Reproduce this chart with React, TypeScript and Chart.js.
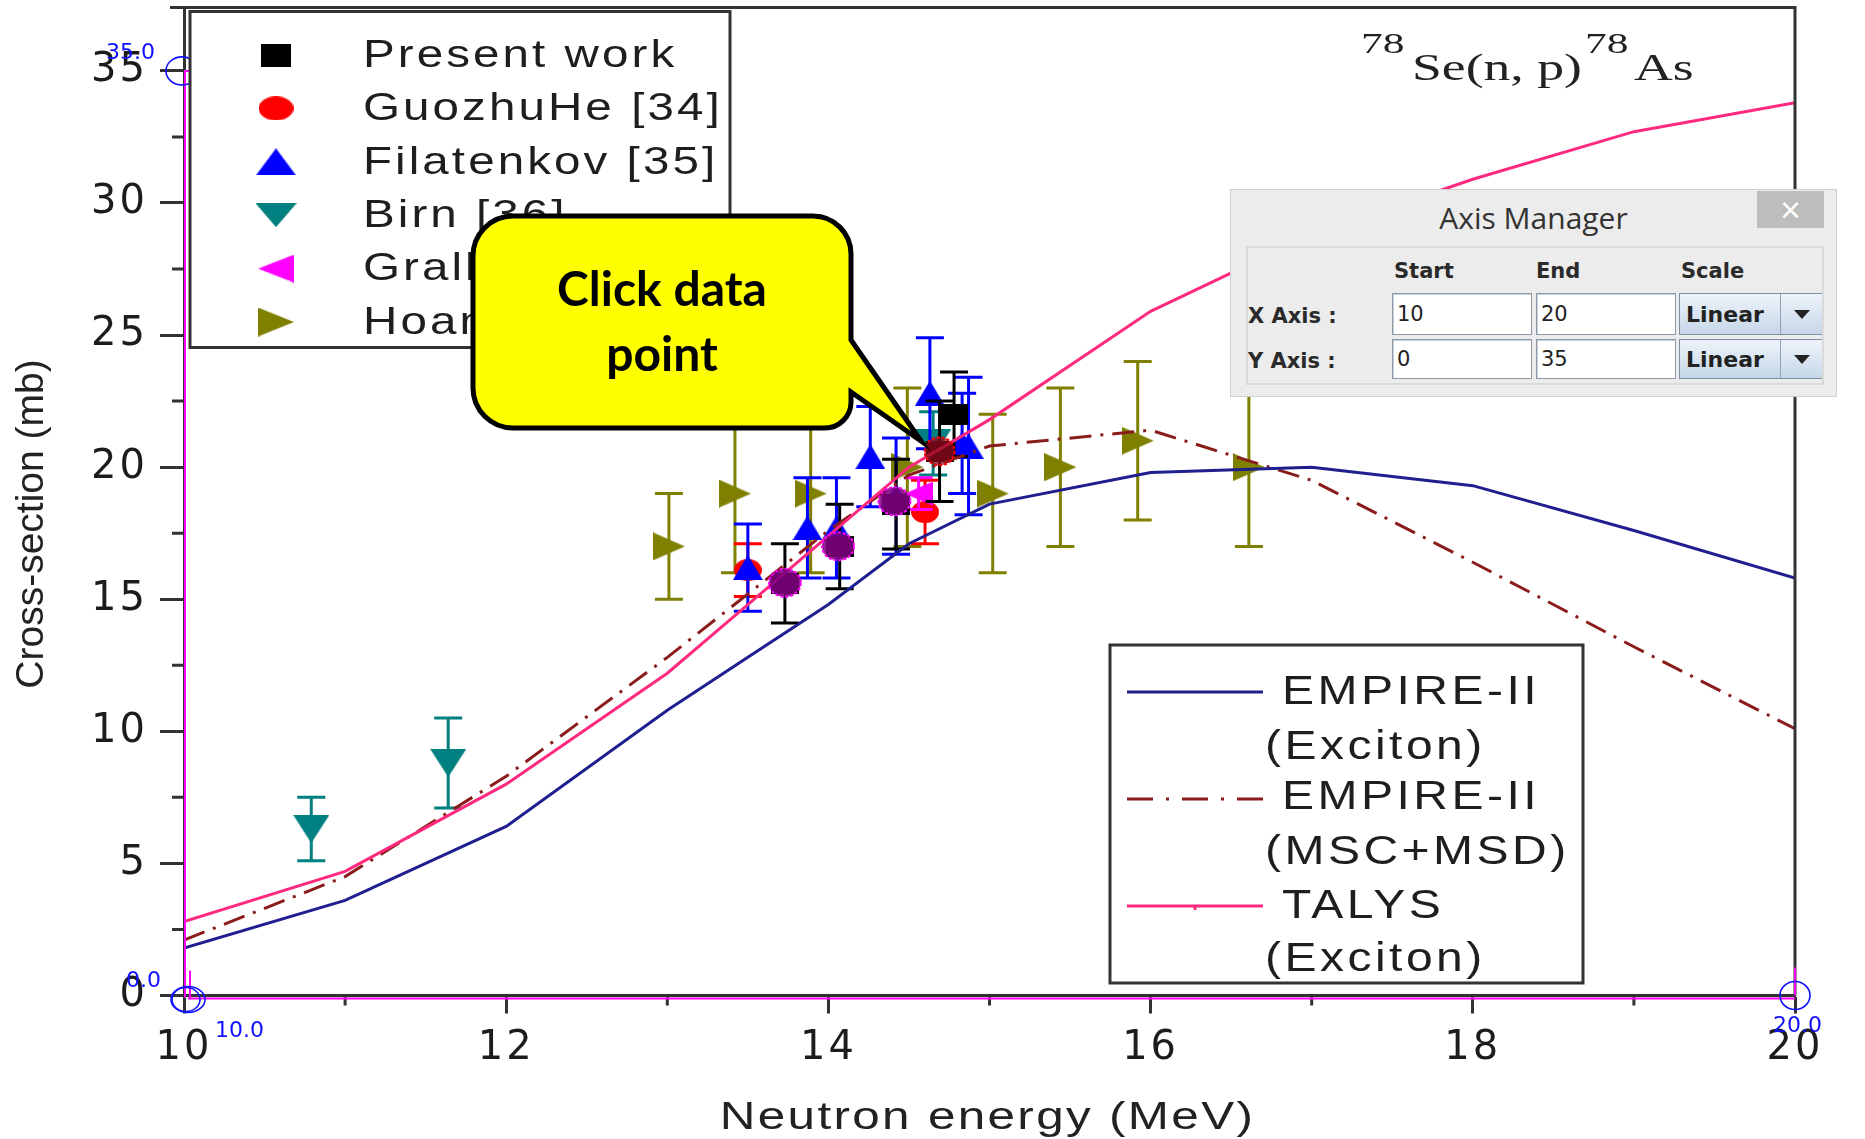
import React, { useEffect, useRef } from 'react';
import { Chart, registerables } from 'chart.js';

Chart.register(...registerables);

// ---------- axis ticks ----------
const xTickValues = [10, 12, 14, 16, 18, 20];
const xMinorTickValues = [11, 13, 15, 17, 19];
const yTickValues = [0, 5, 10, 15, 20, 25, 30, 35];
const yMinorTickValues = [2.5, 7.5, 12.5, 17.5, 22.5, 27.5, 32.5];

// ---------- theory curves ----------
const theoryEnergy = [10, 11, 12, 13, 13.5, 14, 14.5, 15, 16, 17, 18, 19, 20];
const empireExciton = [1.8, 3.6, 6.4, 10.8, 12.8, 14.8, 17.1, 18.6, 19.8, 20.0, 19.3, 17.6, 15.8];
const empireMscMsd = [2.1, 4.5, 8.3, 12.8, 15.2, 17.6, 19.7, 20.8, 21.4, 19.5, 16.4, 13.2, 10.1];
const talysExciton = [2.8, 4.7, 8.0, 12.2, 14.8, 17.4, 20.0, 21.8, 25.9, 28.8, 30.9, 32.7, 33.8];

// ---------- experimental data ----------
const presentEnergy = [13.73, 14.07, 14.42, 14.69, 14.78];
const presentXS = [15.6, 17.0, 18.6, 20.6, 22.0];
const presentErr = [1.5, 1.6, 1.7, 1.9, 1.6];

const guozhuEnergy = [13.5, 14.6];
const guozhuXS = [16.1, 18.3];
const guozhuErr = [1.0, 1.2];

const filatEnergy = [13.5, 13.87, 14.05, 14.26, 14.42, 14.63, 14.83, 14.87];
const filatXS = [16.2, 17.7, 17.7, 20.4, 18.9, 22.8, 20.9, 20.8];
const filatErr = [1.65, 1.9, 1.9, 1.9, 2.2, 2.1, 1.9, 2.6];

const birnEnergy = [10.79, 11.64, 14.65];
const birnXS = [6.3, 8.8, 20.9];
const birnErr = [1.2, 1.7, 1.2];

const grallEnergy = [14.56];
const grallXS = [19.0];
const grallErr = [0.6];

const hoangEnergy = [13.01, 13.42, 13.89, 14.49, 15.02, 15.44, 15.92, 16.61];
const hoangXS = [17.0, 19.0, 19.0, 20.0, 19.0, 20.0, 21.0, 20.0];
const hoangErr = [2.0, 3.0, 3.0, 3.0, 3.0, 3.0, 3.0, 3.0];

// ---------- digitizer marks ----------
const digitizedEnergy = [13.73, 14.06, 14.41];
const digitizedXS = [15.62, 17.0, 18.71];
const clickedEnergy = [14.69];
const clickedXS = [20.6];

const legendLabels = ['Present work', 'GuozhuHe [34]', 'Filatenkov [35]', 'Birn [36]', 'Grallert [37]', 'Hoang [38]'];
const theoryLabels = ['EMPIRE-II', '(Exciton)', 'EMPIRE-II', '(MSC+MSD)', 'TALYS', '(Exciton)'];

const pts = (xs: number[], ys: number[]) => xs.map((x, i) => ({ x, y: ys[i] }));

const errorBarsByLabel: Record<string, number[]> = {
  'Present work': presentErr,
  'GuozhuHe [34]': guozhuErr,
  'Filatenkov [35]': filatErr,
  'Birn [36]': birnErr,
  'Grallert [37]': grallErr,
  'Hoang [38]': hoangErr,
};

function makeMarker(shape: string, color: string, w: number, h: number) {
  const c = document.createElement('canvas');
  c.width = w;
  c.height = h;
  const g = c.getContext('2d')!;
  g.fillStyle = color;
  g.beginPath();
  if (shape === 'square') g.rect(0, 0, w, h);
  else if (shape === 'circle') g.ellipse(w / 2, h / 2, w / 2, h / 2, 0, 0, Math.PI * 2);
  else if (shape === 'up') { g.moveTo(w / 2, 0); g.lineTo(w, h); g.lineTo(0, h); }
  else if (shape === 'down') { g.moveTo(0, 0); g.lineTo(w, 0); g.lineTo(w / 2, h); }
  else if (shape === 'left') { g.moveTo(0, h / 2); g.lineTo(w, 0); g.lineTo(w, h); }
  else if (shape === 'right') { g.moveTo(0, 0); g.lineTo(w, h / 2); g.lineTo(0, h); }
  g.closePath();
  g.fill();
  return c;
}

function drawText(ctx: any, text: string, x: number, y: number, o: any) {
  ctx.save();
  ctx.translate(x, y);
  if (o.rotate) ctx.rotate(o.rotate);
  ctx.scale(o.sx ?? 1, 1);
  ctx.font = o.font;
  ctx.fillStyle = o.color ?? '#222';
  ctx.textAlign = o.align ?? 'left';
  ctx.textBaseline = o.baseline ?? 'middle';
  ctx.letterSpacing = o.spacing ?? '0px';
  ctx.fillText(text, 0, 0);
  ctx.restore();
}

const errorBarPlugin = {
  id: 'errorBars',
  beforeDatasetDraw(chart: any, args: any) {
    const ds = chart.data.datasets[args.index];
    const errs = errorBarsByLabel[ds.label];
    if (!errs) return;
    const ctx = chart.ctx;
    const ys = chart.scales.y;
    ctx.save();
    ctx.strokeStyle = ds.borderColor;
    ctx.lineWidth = 3;
    args.meta.data.forEach((el: any, i: number) => {
      const d = ds.data[i];
      const t = ys.getPixelForValue(d.y + errs[i]);
      const b = ys.getPixelForValue(d.y - errs[i]);
      ctx.beginPath();
      ctx.moveTo(el.x, t); ctx.lineTo(el.x, b);
      ctx.moveTo(el.x - 14, t); ctx.lineTo(el.x + 14, t);
      ctx.moveTo(el.x - 14, b); ctx.lineTo(el.x + 14, b);
      ctx.stroke();
    });
    ctx.restore();
  },
};

function makeOverlayPlugin(markers: any[]) {
  return {
    id: 'overlay',
    beforeDraw(chart: any) {
      chart.ctx.letterSpacing = '3px';
    },
    afterDatasetsDraw(chart: any) {
      const ctx = chart.ctx;
      ctx.letterSpacing = '0px';
      const xs = chart.scales.x, ys = chart.scales.y;
      ctx.save();
      ctx.lineWidth = 2;
      ctx.setLineDash([3, 2]);
      digitizedEnergy.forEach((e, i) => {
        ctx.beginPath();
        ctx.ellipse(xs.getPixelForValue(e), ys.getPixelForValue(digitizedXS[i]), 16, 14, 0, 0, Math.PI * 2);
        ctx.fillStyle = 'rgba(128,0,128,0.88)';
        ctx.fill();
        ctx.strokeStyle = '#ff00ff';
        ctx.stroke();
      });
      clickedEnergy.forEach((e, i) => {
        ctx.beginPath();
        ctx.ellipse(xs.getPixelForValue(e), ys.getPixelForValue(clickedXS[i]), 15, 14, 0, 0, Math.PI * 2);
        ctx.fillStyle = 'rgba(150,10,30,0.75)';
        ctx.fill();
        ctx.strokeStyle = '#ff0000';
        ctx.stroke();
      });
      ctx.restore();
    },
    afterDraw(chart: any) {
      const ctx = chart.ctx;
      ctx.letterSpacing = '0px';
      const xs = chart.scales.x, ys = chart.scales.y;
      const { left: L, right: R, top: T, bottom: B } = chart.chartArea;
      const px = (v: number) => xs.getPixelForValue(v);
      const py = (v: number) => ys.getPixelForValue(v);
      ctx.save();
      // frame
      ctx.strokeStyle = '#333';
      ctx.lineWidth = 3;
      ctx.beginPath();
      ctx.moveTo(L - 14, T); ctx.lineTo(R, T); ctx.lineTo(R, B);
      ctx.stroke();
      // minor ticks
      ctx.beginPath();
      yMinorTickValues.forEach(v => { ctx.moveTo(L - 12, py(v)); ctx.lineTo(L, py(v)); });
      xMinorTickValues.forEach(v => { ctx.moveTo(px(v), B); ctx.lineTo(px(v), B + 10); });
      ctx.stroke();

      // digitizer axis lines
      ctx.strokeStyle = '#ff00ff';
      ctx.lineWidth = 2;
      ctx.beginPath();
      ctx.moveTo(L + 1, py(35)); ctx.lineTo(L + 1, B + 2);
      ctx.moveTo(L, py(35)); ctx.lineTo(L + 30, py(35));
      ctx.moveTo(L + 4, B + 3); ctx.lineTo(R, B + 3);
      ctx.moveTo(L + 6, B - 25); ctx.lineTo(L + 6, B + 3);
      ctx.moveTo(R, B - 28); ctx.lineTo(R, B);
      ctx.stroke();
      ctx.strokeStyle = '#1010ff';
      ctx.lineWidth = 1.6;
      const ell = (x: number, y: number, rx: number, ry: number) => {
        ctx.beginPath(); ctx.ellipse(x, y, rx, ry, 0, 0, Math.PI * 2); ctx.stroke();
      };
      ell(px(10) - 2, py(35), 16, 14);
      ell(px(10) + 4, py(0) + 4, 17, 13);
      ell(px(10) + 2, py(0) + 4, 14, 12);
      ell(px(20), py(0), 15, 14);
      const blueFont = '22px "DejaVu Sans"';
      drawText(ctx, '35.0', L - 78, py(35) - 12, { font: blueFont, color: '#1010ff', baseline: 'alphabetic' });
      drawText(ctx, '0.0', L - 58, B - 9, { font: blueFont, color: '#1010ff', baseline: 'alphabetic' });
      drawText(ctx, '10.0', L + 31, B + 41, { font: blueFont, color: '#1010ff', baseline: 'alphabetic' });
      drawText(ctx, '20.0', R - 22, B + 36, { font: blueFont, color: '#1010ff', baseline: 'alphabetic' });

      // axis titles
      drawText(ctx, 'Neutron energy (MeV)', (L + R) / 2 - 2, 1119, {
        font: '38px "Liberation Sans"', color: '#222', align: 'center', sx: 1.3, spacing: '1.8px',
      });
      drawText(ctx, 'Cross-section (mb)', 32, 524, {
        font: '39px "Liberation Sans"', color: '#222', align: 'center', rotate: -Math.PI / 2,
      });

      // reaction label
      const serifSup = '30px "Liberation Serif"';
      const serifMain = '37px "Liberation Serif"';
      drawText(ctx, '78', 1361, 53, { font: serifSup, sx: 1.45, baseline: 'alphabetic', color: '#222' });
      drawText(ctx, 'Se(n, p)', 1412, 80, { font: serifMain, sx: 1.45, baseline: 'alphabetic', color: '#222' });
      drawText(ctx, '78', 1585, 53, { font: serifSup, sx: 1.45, baseline: 'alphabetic', color: '#222' });
      drawText(ctx, 'As', 1634, 80, { font: serifMain, sx: 1.45, baseline: 'alphabetic', color: '#222' });

      // experimental legend
      ctx.fillStyle = '#fff';
      ctx.fillRect(L + 6, T + 4, 540, 336);
      ctx.strokeStyle = '#333';
      ctx.lineWidth = 3;
      ctx.strokeRect(L + 6, T + 4, 540, 336);
      const legendSizes = [[30, 23], [35, 24], [40, 27], [41, 24], [36, 28], [36, 29]];
      legendLabels.forEach((lab, i) => {
        const y = 55 + i * 53.4;
        const [w, h] = legendSizes[i];
        ctx.drawImage(markers[i], 276 - w / 2, y - h / 2, w, h);
        drawText(ctx, lab, 363, y + 1, { font: '39px "Liberation Sans"', sx: 1.22, spacing: '2.5px', color: '#1e1e1e' });
      });

      // theory legend
      ctx.fillStyle = '#fff';
      ctx.fillRect(1110, 645, 473, 338);
      ctx.strokeStyle = '#333';
      ctx.lineWidth = 3;
      ctx.strokeRect(1110, 645, 473, 338);
      const lineRows = [692, 799, 906];
      const lineColors = ['#1f1f8f', '#8b1c1c', '#ff2a7f'];
      lineRows.forEach((y, i) => {
        ctx.beginPath();
        ctx.strokeStyle = lineColors[i];
        ctx.lineWidth = 3;
        ctx.setLineDash(i === 1 ? [26, 13, 3, 13] : []);
        ctx.moveTo(1127, y); ctx.lineTo(1263, y);
        if (i === 2) { ctx.moveTo(1195, y); ctx.lineTo(1195, y + 4); }
        ctx.stroke();
      });
      ctx.setLineDash([]);
      const textRows = [693, 748, 798, 853, 907, 960];
      theoryLabels.forEach((lab, i) => {
        drawText(ctx, lab, i % 2 === 0 ? 1282 : 1265, textRows[i], {
          font: '40px "Liberation Sans"', sx: 1.2, spacing: '2.9px', color: '#1e1e1e',
        });
      });

      // callout
      const l = 473, t = 216, r = 851, b = 428;
      ctx.beginPath();
      ctx.moveTo(l + 40, t);
      ctx.lineTo(r - 38, t);
      ctx.arcTo(r, t, r, t + 38, 38);
      ctx.lineTo(r, 340);
      ctx.lineTo(921, 441);
      ctx.lineTo(r, 392);
      ctx.lineTo(r, b - 26);
      ctx.arcTo(r, b, r - 26, b, 26);
      ctx.lineTo(l + 40, b);
      ctx.arcTo(l, b, l, b - 40, 40);
      ctx.lineTo(l, t + 40);
      ctx.arcTo(l, t, l + 40, t, 40);
      ctx.closePath();
      ctx.fillStyle = '#ffff00';
      ctx.fill();
      ctx.strokeStyle = '#000';
      ctx.lineWidth = 5;
      ctx.lineJoin = 'miter';
      ctx.stroke();
      drawText(ctx, 'Click data', 662, 291, { font: 'bold 48px Lato', align: 'center', color: '#000' });
      drawText(ctx, 'point', 662, 356, { font: 'bold 48px Lato', align: 'center', color: '#000' });
      ctx.restore();
    },
  };
}

function AxisManager() {
  const label: any = { position: 'absolute', font: 'bold 21px "DejaVu Sans"', color: '#2a2a2a', lineHeight: '24px', whiteSpace: 'nowrap' };
  const input: any = {
    position: 'absolute', background: '#fff', border: '1px solid #8d99a6', boxShadow: 'inset 1px 1px 0 #c9d1da',
    boxSizing: 'border-box', font: '21px "DejaVu Sans"', color: '#222', paddingLeft: 4, display: 'flex', alignItems: 'center',
  };
  const combo: any = {
    position: 'absolute', border: '1px solid #7d8fa3', boxSizing: 'border-box',
    background: 'linear-gradient(#eef3f9, #c6d7e9)', font: 'bold 22px "DejaVu Sans"', color: '#222',
    paddingLeft: 6, display: 'flex', alignItems: 'center',
  };
  const rows = [
    { name: 'X Axis :', start: '10', end: '20', top: 103, h: 42, cy: 126 },
    { name: 'Y Axis :', start: '0', end: '35', top: 149, h: 40, cy: 171 },
  ];
  return (
    <div style={{ position: 'absolute', left: 1230, top: 189, width: 607, height: 208, background: '#ececec', border: '1px solid #cfcfcf', boxSizing: 'border-box' }}>
      <div style={{ position: 'absolute', left: 0, width: '100%', top: 8, textAlign: 'center', font: '30px "Open Sans"', color: '#333', lineHeight: '40px' }}>Axis Manager</div>
      <div style={{ position: 'absolute', left: 526, top: 1, width: 67, height: 37, background: '#bdbdbd', color: '#fff', font: '28px "DejaVu Sans"', display: 'flex', alignItems: 'center', justifyContent: 'center' }}>×</div>
      <div style={{ position: 'absolute', left: 15, top: 56, width: 578, height: 139, border: '2px solid #dadada', boxSizing: 'border-box' }} />
      <div style={{ ...label, left: 163, top: 69 }}>Start</div>
      <div style={{ ...label, left: 305, top: 69 }}>End</div>
      <div style={{ ...label, left: 450, top: 69 }}>Scale</div>
      {rows.map((row) => (
        <React.Fragment key={row.name}>
          <div style={{ ...label, left: 17, top: row.cy - 12 }}>{row.name}</div>
          <div style={{ ...input, left: 161, top: row.top, width: 140, height: row.h }}>{row.start}</div>
          <div style={{ ...input, left: 305, top: row.top, width: 140, height: row.h }}>{row.end}</div>
          <div style={{ ...combo, left: 448, top: row.top, width: 143, height: row.h }}>
            Linear
            <div style={{ position: 'absolute', left: 100, top: 0, width: 41, height: '100%', borderLeft: '1px solid #8fa2b6', background: 'linear-gradient(#eef3f9, #c6d7e9)', display: 'flex', alignItems: 'center', justifyContent: 'center' }}>
              <div style={{ width: 0, height: 0, borderLeft: '8px solid transparent', borderRight: '8px solid transparent', borderTop: '9px solid #222' }} />
            </div>
          </div>
        </React.Fragment>
      ))}
    </div>
  );
}

export default function App() {
  const canvasRef = useRef<HTMLCanvasElement>(null);

  useEffect(() => {
    document.body.style.margin = '0';
    document.body.style.overflow = 'hidden';
    const mk = [
      makeMarker('square', '#000000', 28, 21),
      makeMarker('circle', '#ff0000', 28, 22),
      makeMarker('up', '#0000ff', 30, 25),
      makeMarker('down', '#008080', 36, 28),
      makeMarker('left', '#ff00ff', 28, 24),
      makeMarker('right', '#808000', 32, 28),
    ];
    const expSets = [
      { label: 'Present work', data: pts(presentEnergy, presentXS), color: '#000000', order: 4 },
      { label: 'GuozhuHe [34]', data: pts(guozhuEnergy, guozhuXS), color: '#ff0000', order: 8 },
      { label: 'Filatenkov [35]', data: pts(filatEnergy, filatXS), color: '#0000ff', order: 6 },
      { label: 'Birn [36]', data: pts(birnEnergy, birnXS), color: '#008080', order: 7 },
      { label: 'Grallert [37]', data: pts(grallEnergy, grallXS), color: '#ff00ff', order: 5 },
      { label: 'Hoang [38]', data: pts(hoangEnergy, hoangXS), color: '#808000', order: 9 },
    ].map((s, i) => ({
      type: 'scatter',
      label: s.label,
      data: s.data,
      borderColor: s.color,
      backgroundColor: s.color,
      pointStyle: mk[i],
      pointRadius: 14,
      showLine: false,
      order: s.order,
    }));
    const lineSets = [
      { label: 'EMPIRE-II (Exciton)', data: pts(theoryEnergy, empireExciton), color: '#1f1f8f', dash: [] as number[], order: 2 },
      { label: 'EMPIRE-II (MSC+MSD)', data: pts(theoryEnergy, empireMscMsd), color: '#8b1c1c', dash: [22, 9, 3, 9], order: 3 },
      { label: 'TALYS (Exciton)', data: pts(theoryEnergy, talysExciton), color: '#ff2a7f', dash: [] as number[], order: 1 },
    ].map((s) => ({
      type: 'scatter',
      label: s.label,
      data: s.data,
      borderColor: s.color,
      backgroundColor: s.color,
      borderWidth: 3,
      borderDash: s.dash,
      showLine: true,
      pointRadius: 0,
      tension: 0,
      fill: false,
      order: s.order,
    }));

    const tickFont = { family: '"DejaVu Sans"', size: 40 };
    const chart = new Chart(canvasRef.current!, {
      type: 'scatter',
      data: { datasets: [...expSets, ...lineSets] as any },
      options: {
        responsive: false,
        animation: false,
        devicePixelRatio: 1,
        events: [],
        layout: { autoPadding: false, padding: { top: 7.5, right: 70, left: 0, bottom: 0 } },
        plugins: { legend: { display: false }, tooltip: { enabled: false } },
        scales: {
          x: {
            type: 'linear',
            min: 10,
            max: 20,
            afterBuildTicks: (s: any) => { s.ticks = xTickValues.map(v => ({ value: v })); },
            afterFit: (s: any) => { s.height = 143.5; s.paddingLeft = 0; s.paddingRight = 0; s.paddingTop = 0; s.paddingBottom = 0; },
            ticks: { font: tickFont, color: '#1c1c1c', padding: 11, maxRotation: 0, autoSkip: false },
            grid: { drawOnChartArea: false, drawTicks: true, tickLength: 18, tickColor: '#333', tickWidth: 3 },
            border: { display: true, color: '#333', width: 3 },
            title: { display: false },
          },
          y: {
            type: 'linear',
            min: 0,
            max: 37.4,
            afterBuildTicks: (s: any) => { s.ticks = yTickValues.map(v => ({ value: v })); },
            afterFit: (s: any) => { s.width = 184; s.paddingLeft = 0; s.paddingRight = 0; s.paddingTop = 0; s.paddingBottom = 0; },
            ticks: { font: tickFont, color: '#1c1c1c', padding: 12, autoSkip: false },
            grid: { drawOnChartArea: false, drawTicks: true, tickLength: 24, tickColor: '#333', tickWidth: 3 },
            border: { display: true, color: '#333', width: 3 },
            title: { display: false },
          },
        },
      } as any,
      plugins: [errorBarPlugin, makeOverlayPlugin(mk)],
    });
    return () => chart.destroy();
  }, []);

  return (
    <div style={{ position: 'relative', width: 1865, height: 1139, background: '#fff', overflow: 'hidden' }}>
      <canvas ref={canvasRef} width={1865} height={1139} style={{ display: 'block', width: 1865, height: 1139 }} />
      <AxisManager />
    </div>
  );
}
